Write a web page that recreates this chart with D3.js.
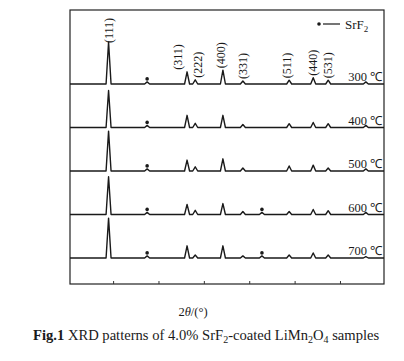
<!DOCTYPE html>
<html>
<head>
<meta charset="utf-8">
<script src="https://cdn.jsdelivr.net/npm/d3@7"></script>
<style>
  body { margin: 0; background: #fff; }
  svg { display: block; }
  text { font-family: "Liberation Serif", "Times New Roman", serif; fill: #1a1a1a; }
</style>
</head>
<body>
<div id="chart"></div>
<script>
(function(){
  'use strict';

  // data
  var temperatures = ['300 \u2103', '400 \u2103', '500 \u2103', '600 \u2103', '700 \u2103'];
  var peakLabels = ['(111)', '(311)', '(222)', '(400)', '(331)', '(511)', '(440)', '(531)'];
  var peakAngles = [19.0, 36.3, 38.1, 44.2, 48.6, 58.8, 64.1, 67.4];
  var minorAngles = [75.7];
  var srf2Angles = [27.5, 52.8];

  // relative intensities, (111) of 300 C = 100
  var spinelI = [
    [100, 29, 10, 33, 7, 9, 15, 9],
    [88, 29, 10, 29, 7, 9, 12, 9],
    [95, 26, 10, 29, 7, 12, 14, 7],
    [90, 24, 10, 26, 7, 7, 12, 9],
    [95, 29, 7, 29, 5, 7, 12, 7]
  ];
  var minorI = [[5], [5], [5], [5], [3]];
  var srf2I = [
    [5, 0],
    [5, 0],
    [5, 0],
    [5, 5],
    [5, 5]
  ];
  var xTicks = [20, 30, 40, 50, 60, 70];

  var W = 404, H = 361,
      left = 70, right = 384, top = 10, bottom = 284;

  var svg = d3.select('#chart').append('svg')
    .attr('width', W)
    .attr('height', H);

  var x = d3.scaleLinear()
    .domain([10.5, 79.7])
    .range([left, right]);

  var offset = d3.scalePoint()
    .domain(temperatures)
    .range([84, 258]);

  var y = d3.scaleLinear()
    .domain([0, 100])
    .range([0, 42]);

  var halfW = 0.55;

  function tracePoints(k) {
    var peaks = [], i;
    for (i = 0; i < peakAngles.length; i += 1) peaks.push({a: peakAngles[i], h: spinelI[k][i]});
    for (i = 0; i < minorAngles.length; i += 1) peaks.push({a: minorAngles[i], h: minorI[k][i]});
    for (i = 0; i < srf2Angles.length; i += 1) peaks.push({a: srf2Angles[i], h: srf2I[k][i]});
    peaks.sort(function(a, b) { return a.a - b.a; });

    var pts = [[x.domain()[0], 0]];
    peaks.forEach(function(p) {
      if (p.h <= 0) return;
      pts.push([p.a - halfW, 0], [p.a, p.h], [p.a + halfW, 0]);
    });
    pts.push([x.domain()[1], 0]);
    return pts;
  }

  // frame
  svg.append('rect')
    .attr('x', left)
    .attr('y', top)
    .attr('width', right - left)
    .attr('height', bottom - top)
    .style('fill', 'none')
    .style('stroke', '#222')
    .style('stroke-width', 1.2);

  // bottom ticks, inward
  var xAxis = d3.axisBottom(x)
    .tickValues(xTicks)
    .tickSizeInner(-3)
    .tickSizeOuter(0)
    .tickFormat('');

  var gx = svg.append('g')
    .attr('transform', 'translate(0,' + bottom + ')')
    .call(xAxis);
  gx.select('.domain').remove();
  gx.selectAll('line').style('stroke', '#333').style('stroke-width', 1);

  // traces
  temperatures.forEach(function(t, k) {
    var base = offset(t);
    var line = d3.line()
      .x(function(d) { return x(d[0]); })
      .y(function(d) { return base - y(d[1]); });

    svg.append('path')
      .datum(tracePoints(k))
      .attr('d', line)
      .style('fill', 'none')
      .style('stroke', '#1a1a1a')
      .style('stroke-width', 1.4)
      .style('stroke-linejoin', 'round');

    // SrF2 markers
    srf2Angles.forEach(function(a, j) {
      if (srf2I[k][j] <= 0) return;
      svg.append('circle')
        .attr('cx', x(a))
        .attr('cy', base - y(srf2I[k][j]) - 3)
        .attr('r', 1.8)
        .style('fill', '#1a1a1a');
    });

    svg.append('text')
      .attr('x', right - 2)
      .attr('y', base - 3)
      .attr('text-anchor', 'end')
      .style('font-size', '12.5px')
      .text(t);
  });

  // peak labels above the 300 C trace
  var labelNudge = {'(311)': -9, '(222)': 3, '(400)': -2, '(511)': -2};
  peakLabels.forEach(function(lab, i) {
    var px = x(peakAngles[i]) + (labelNudge[lab] || 0),
        py = offset(temperatures[0]) - y(spinelI[0][i]) - 2;
    if (i === 0) py = offset(temperatures[0]) - y(spinelI[0][i]) + 1;
    svg.append('text')
      .attr('transform', 'translate(' + px + ',' + py + ') rotate(-90)')
      .attr('dy', '0.35em')
      .style('font-size', '12px')
      .text(lab);
  });

  // legend
  svg.append('circle')
    .attr('cx', 319)
    .attr('cy', 24)
    .attr('r', 1.8)
    .style('fill', '#1a1a1a');
  svg.append('line')
    .attr('x1', 323).attr('x2', 340)
    .attr('y1', 24).attr('y2', 24)
    .style('stroke', '#1a1a1a')
    .style('stroke-width', 1.2);
  var lg = svg.append('text')
    .attr('x', 345)
    .attr('y', 29)
    .style('font-size', '13px');
  lg.append('tspan').text('SrF');
  lg.append('tspan').attr('dy', 3).style('font-size', '9px').text('2');

  // axis title
  var at = svg.append('text')
    .attr('x', 193)
    .attr('y', 316)
    .attr('text-anchor', 'middle')
    .style('font-size', '12.5px');
  at.append('tspan').text('2');
  at.append('tspan').style('font-style', 'italic').text('\u03b8');
  at.append('tspan').text('/(\u00b0)');

  // caption
  var cap = svg.append('text')
    .attr('x', 33)
    .attr('y', 340)
    .style('font-size', '14.6px');
  cap.append('tspan').style('font-weight', 'bold').text('Fig.1 ');
  cap.append('tspan').text('XRD patterns of 4.0% SrF');
  cap.append('tspan').attr('dy', 3).style('font-size', '10px').text('2');
  cap.append('tspan').attr('dy', -3).text('-coated LiMn');
  cap.append('tspan').attr('dy', 3).style('font-size', '10px').text('2');
  cap.append('tspan').attr('dy', -3).text('O');
  cap.append('tspan').attr('dy', 3).style('font-size', '10px').text('4');
  cap.append('tspan').attr('dy', -3).text(' samples');

}());
</script>
</body>
</html>
